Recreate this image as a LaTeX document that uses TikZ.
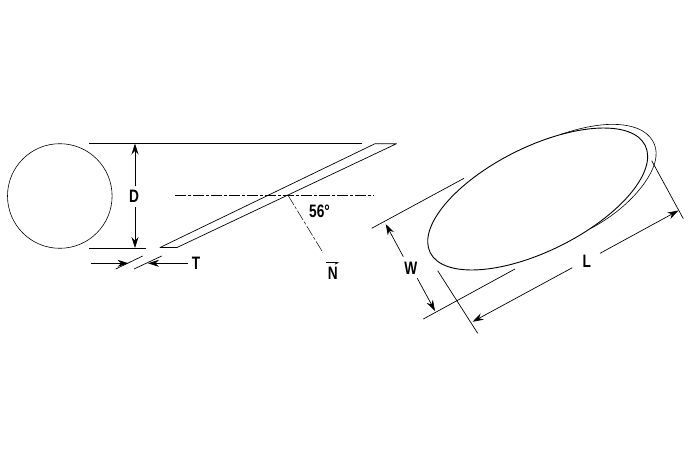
\documentclass[tikz,border=0pt]{standalone}
\usepackage{fontspec}
\newfontfamily\dimfont[FakeStretch=0.76]{Liberation Sans}
\usetikzlibrary{arrows.meta}
\tikzset{
	dimlabel/.style={font=\dimfont\bfseries\fontsize{18}{18}\selectfont, inner sep=0pt},
	dimline/.style={line width=0.7pt},
	dimarrow/.style={line width=0.7pt, -{Stealth[length=11pt,width=7pt]}},
	axisline/.style={line width=0.7pt, dash pattern=on 11pt off 2pt on 3pt off 2pt}
}
\begin{document}
\begin{tikzpicture}[x=1pt, y=-1pt, line join=round, line cap=butt]
	\useasboundingbox (0,0) rectangle (690,460);
	% circle and plate
	\coordinate (O) at (59.8,196);
	\coordinate (P1) at (160,247.5);
	\coordinate (P2) at (177,247.5);
	\coordinate (P3) at (396.5,143.7);
	\coordinate (P4) at (375,143.7);
	\draw[line width=0.6pt] (O) circle (52.3);
	\draw[line width=0.7pt] (P1)--(P2)--(P3)--(P4)--cycle;
	% D
	\coordinate (Dt1) at (89,143.5);
	\coordinate (Dt2) at (362,143.5);
	\coordinate (Db1) at (89,248);
	\coordinate (Db2) at (146,248);
	\coordinate (Dt) at (135,143.5);
	\coordinate (Db) at (135,248);
	\draw[dimline] (Dt1)--(Dt2);
	\draw[dimline] (Db1)--(Db2);
	\node[dimlabel] (D) at (134,196.5) {D};
	\coordinate (Du) at (135,186);
	\coordinate (Dl) at (135,207);
	\draw[dimarrow] (Du)--(Dt);
	\draw[dimarrow] (Dl)--(Db);
	% T
	\coordinate (Ta1) at (115.7,269);
	\coordinate (Ta2) at (142.7,256);
	\coordinate (Tb1) at (134,269);
	\coordinate (Tb2) at (161.7,256);
	\draw[dimline] (Ta1)--(Ta2);
	\draw[dimline] (Tb1)--(Tb2);
	\coordinate (Tl) at (91,263.3);
	\coordinate (Tli) at (128.5,263.3);
	\coordinate (Tr) at (188,263.3);
	\coordinate (Tri) at (148,263.3);
	\draw[dimarrow] (Tl)--(Tli);
	\draw[dimarrow] (Tr)--(Tri);
	\node[dimlabel] (T) at (196,263.5) {T};
	% axis and normal
	\coordinate (X1) at (175,195.3);
	\coordinate (X2) at (374,195.3);
	\coordinate (Nb) at (288,195.3);
	\coordinate (Ne) at (323,252.7);
	\draw[axisline] (X1)--(X2);
	\draw[axisline, line width=0.5pt] (Nb)--(Ne);
	\node[dimlabel] (ang) at (319.5,211) {56°};
	\node[dimlabel] (N) at (332.7,273) {N};
	\coordinate (Na) at (326,262.7);
	\coordinate (Nc) at (339.3,262.7);
	\draw[line width=0.6pt, -{Stealth[length=4pt,width=4pt,right]}] (Na)--(Nc);
	% ellipse
	\coordinate (E) at (537.7,199);
	\coordinate (Ca) at (560,134.7);
	\coordinate (Cb) at (637,128.3);
	\coordinate (Cc) at (656,156);
	\coordinate (Cd) at (590,228.8);
	\draw[line width=0.9pt, rotate around={26.5:(E)}] (E) ellipse (120.1 and 52);
	\draw[line width=0.6pt] (Ca) .. controls (585,126) and (615,120) .. (Cb) .. controls (652,134) and (657,146) .. (Cc) .. controls (655,175) and (630,208) .. (Cd);
	% W
	\coordinate (Wa1) at (371.7,228.3);
	\coordinate (Wa2) at (464,178.3);
	\coordinate (Wb1) at (423.3,319);
	\coordinate (Wb2) at (515,269);
	\draw[dimline] (Wa1)--(Wa2);
	\draw[dimline] (Wb1)--(Wb2);
	\node[dimlabel] (W) at (410.7,268.5) {W};
	\coordinate (Wu) at (403.3,256.7);
	\coordinate (Wt) at (385.7,224);
	\coordinate (Wl) at (417.3,278.3);
	\coordinate (Wq) at (435,311);
	\draw[dimarrow] (Wu)--(Wt);
	\draw[dimarrow] (Wl)--(Wq);
	% L
	\coordinate (La1) at (437.7,270.7);
	\coordinate (La2) at (477.7,333.3);
	\coordinate (Lb1) at (651.7,160.7);
	\coordinate (Lb2) at (683.3,218.7);
	\draw[dimline] (La1)--(La2);
	\draw[dimline] (Lb1)--(Lb2);
	\node[dimlabel] (L) at (586.7,261.7) {L};
	\coordinate (Lu) at (572.3,267.7);
	\coordinate (Lt) at (472.5,321.8);
	\coordinate (Lv) at (600,253.3);
	\coordinate (Lr) at (678.5,210.5);
	\draw[dimarrow] (Lu)--(Lt);
	\draw[dimarrow] (Lv)--(Lr);
\end{tikzpicture}
\end{document}
